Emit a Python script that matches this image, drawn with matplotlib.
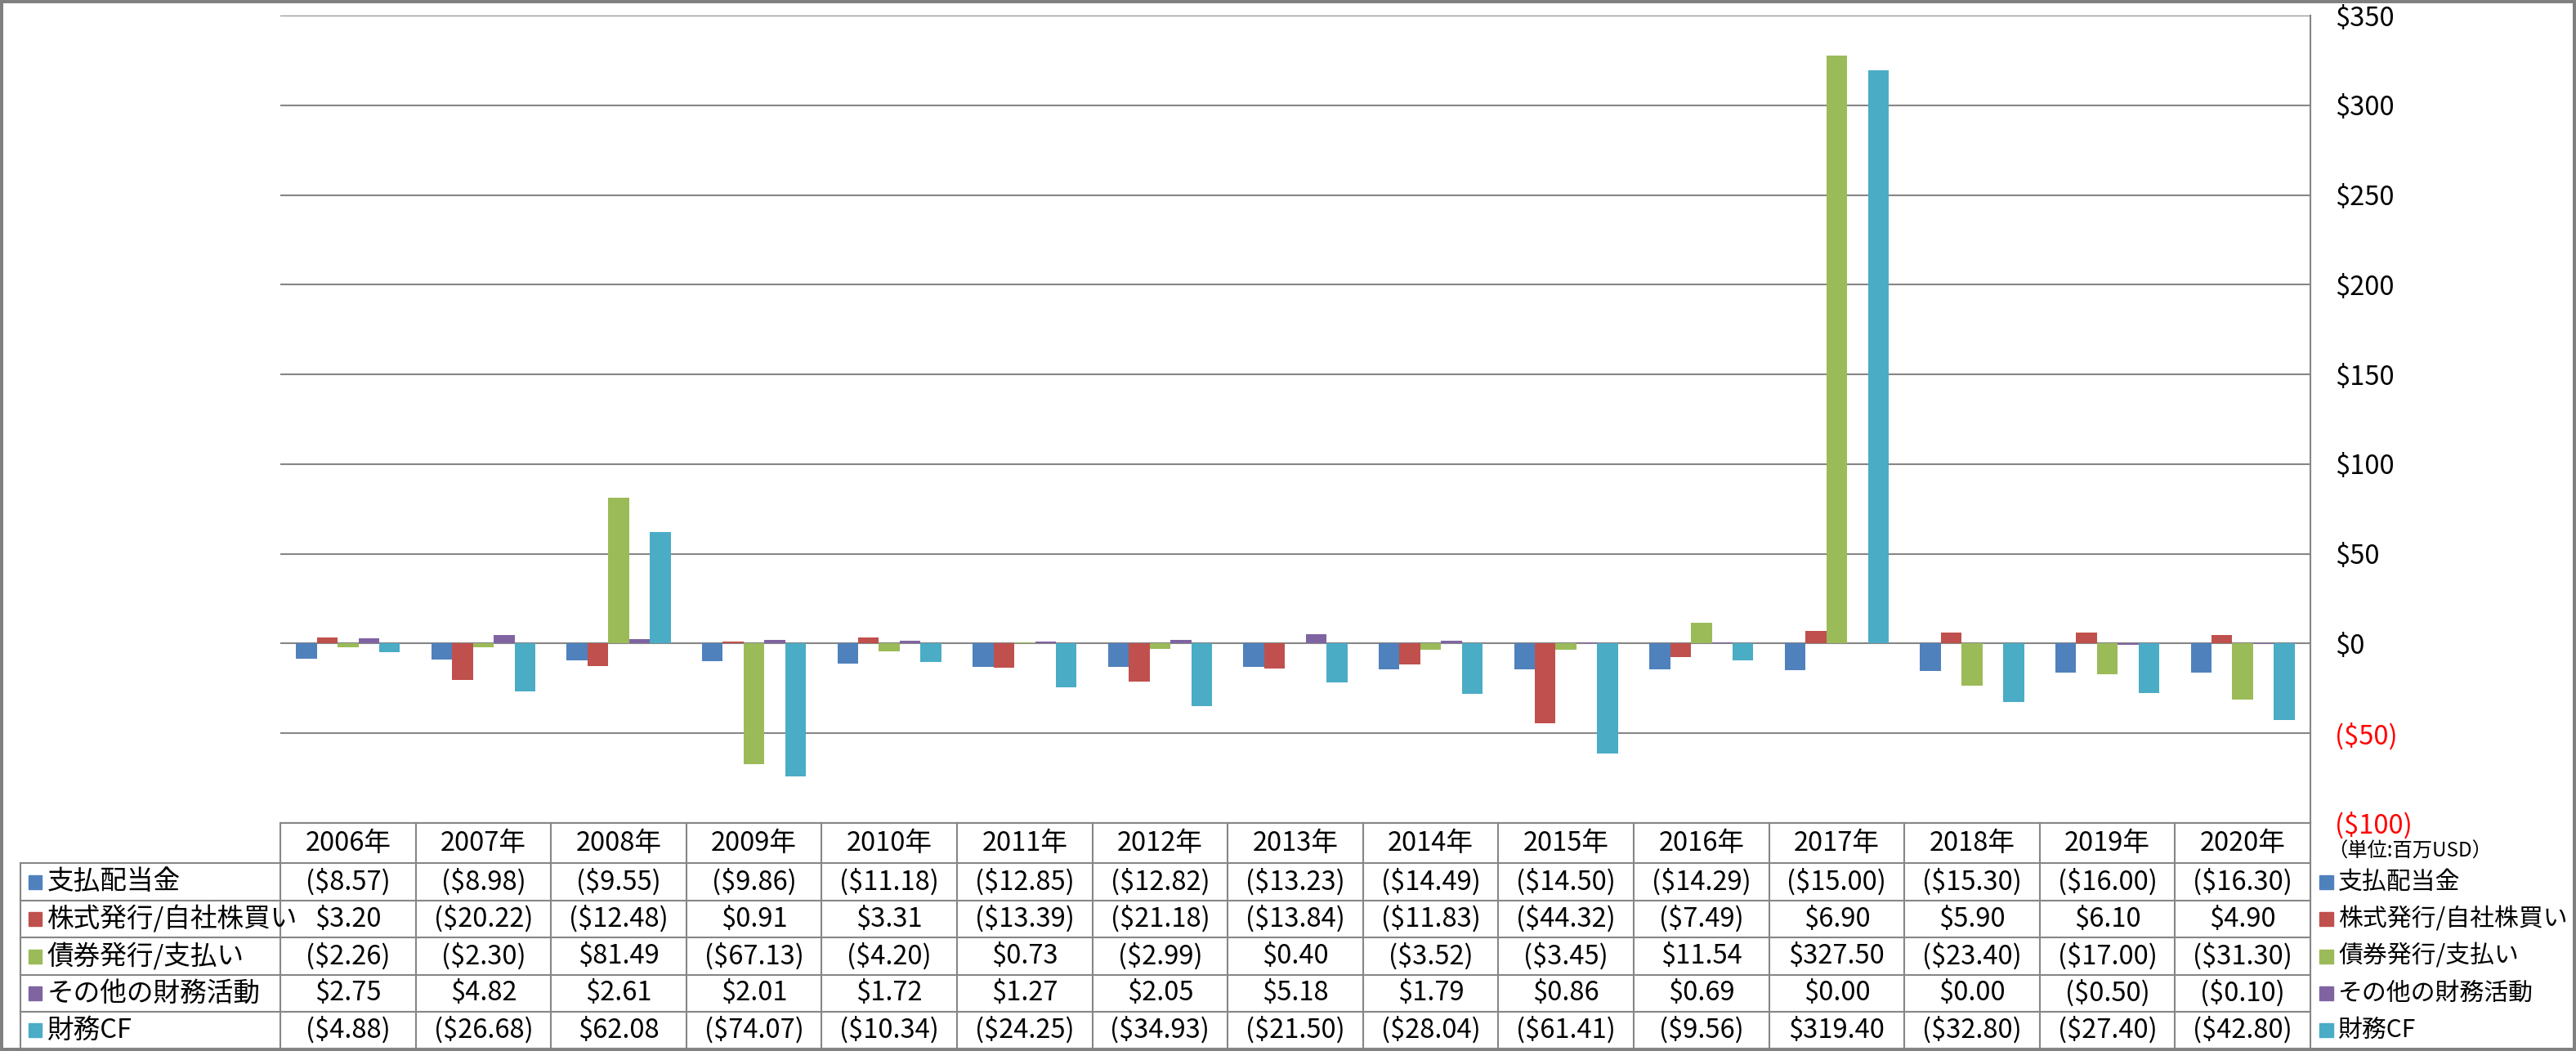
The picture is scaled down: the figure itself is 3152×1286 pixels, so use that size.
import matplotlib
matplotlib.use("Agg")
import matplotlib.pyplot as plt
import matplotlib.transforms as mtransforms
from matplotlib.patches import Rectangle
import numpy as np

plt.rcParams['font.family'] = ['Noto Sans CJK JP', 'DejaVu Sans']

# data (百万USD)
years = ["2006年", "2007年", "2008年", "2009年", "2010年", "2011年", "2012年", "2013年",
         "2014年", "2015年", "2016年", "2017年", "2018年", "2019年", "2020年"]
series_names = ["支払配当金", "株式発行/自社株買い", "債券発行/支払い", "その他の財務活動", "財務CF"]
dividends = [-8.57, -8.98, -9.55, -9.86, -11.18, -12.85, -12.82, -13.23, -14.49, -14.50,
             -14.29, -15.00, -15.30, -16.00, -16.30]
stock = [3.20, -20.22, -12.48, 0.91, 3.31, -13.39, -21.18, -13.84, -11.83, -44.32,
         -7.49, 6.90, 5.90, 6.10, 4.90]
debt = [-2.26, -2.30, 81.49, -67.13, -4.20, 0.73, -2.99, 0.40, -3.52, -3.45,
        11.54, 327.50, -23.40, -17.00, -31.30]
other = [2.75, 4.82, 2.61, 2.01, 1.72, 1.27, 2.05, 5.18, 1.79, 0.86,
         0.69, 0.00, 0.00, -0.50, -0.10]
fin_cf = [-4.88, -26.68, 62.08, -74.07, -10.34, -24.25, -34.93, -21.50, -28.04, -61.41,
          -9.56, 319.40, -32.80, -27.40, -42.80]
yticks = [-100, -50, 0, 50, 100, 150, 200, 250, 300, 350]

series = [dividends, stock, debt, other, fin_cf]
colors = ['#4F81BD', '#C0504D', '#9BBB59', '#8064A2', '#4BACC6']
grid_c = '#868686'

W, H = 3152, 1286
fig = plt.figure(figsize=(W / 100, H / 100), dpi=100)
fig.patch.set_edgecolor('#808080')
fig.patch.set_linewidth(4.5)

# plot area
ax = fig.add_axes([343 / W, 1 - 1007 / H, (2827 - 343) / W, (1007 - 19) / H])
x = np.arange(len(years))
w = 1 / 6.5
for i, vals in enumerate(series):
    ax.bar(x + (i - 2) * w, vals, width=w, color=colors[i], zorder=3)

ax.set_xlim(-0.5, len(years) - 0.5)
ax.set_ylim(-100, 350)
ax.set_xticks([])
ax.yaxis.tick_right()
ax.set_yticks(yticks)
ax.set_yticklabels([f"${v}" if v >= 0 else f"(${-v})" for v in yticks])
for lbl, v in zip(ax.get_yticklabels(), yticks):
    if v < 0:
        lbl.set_color('#FF0000')
    lbl.set_horizontalalignment('left')
ax.tick_params(axis='y', length=0, pad=21.5, labelsize=23.5)
ax.grid(axis='y', color=grid_c, linewidth=1.5, zorder=0)
for s in ['top', 'left', 'bottom']:
    ax.spines[s].set_visible(False)
ax.spines['right'].set_color(grid_c)
ax.spines['right'].set_linewidth(1.5)

# overlay for the data table, y in pixels
tb = fig.add_axes([0, 0, 1, 1], facecolor='none')
tb.set_xlim(0, W)
tb.set_ylim(H, 0)
tb.axis('off')
fig.canvas.draw()
tr = mtransforms.blended_transform_factory(ax.transData, tb.transData)

row_edges = [1007, 1056, 1102, 1147, 1193, 1238, 1283]
x_lo, x_hi = -0.5, len(years) - 0.5
fs = 23.5
lw = 1.5

# horizontal lines
tb.plot([x_lo, x_hi], [row_edges[0]] * 2, color=grid_c, lw=lw, transform=tr)
for yy in row_edges[1:]:
    tb.plot([25, 2827], [yy, yy], color=grid_c, lw=lw)
# vertical lines
for k in range(len(years) + 1):
    tb.plot([k - 0.5] * 2, [row_edges[0], row_edges[-1]], color=grid_c, lw=lw, transform=tr)
tb.plot([25, 25], [row_edges[1], row_edges[-1]], color=grid_c, lw=lw)

# header
yc = (row_edges[0] + row_edges[1]) / 2
for j, yr in enumerate(years):
    tb.text(j, yc, yr, ha='center', va='center', fontsize=fs, transform=tr)


def fmt(v):
    return f"${v:.2f}" if v >= 0 else f"(${-v:.2f})"


for i, (name, vals) in enumerate(zip(series_names, series)):
    yc = (row_edges[i + 1] + row_edges[i + 2]) / 2
    tb.add_patch(Rectangle((35, yc - 8.5), 16, 17, color=colors[i]))
    tb.text(58, yc, name, ha='left', va='center', fontsize=fs)
    for j, v in enumerate(vals):
        tb.text(j, yc, fmt(v), ha='center', va='center', fontsize=fs, transform=tr)
    # right legend
    tb.add_patch(Rectangle((2838, yc - 8.5), 17, 17, color=colors[i]))
    tb.text(2861, yc, name, ha='left', va='center', fontsize=21.5)

tb.text(2848, 1042, "（単位:百万USD）", ha='left', va='center', fontsize=17.5)

fig.savefig("out.png", dpi=100)
